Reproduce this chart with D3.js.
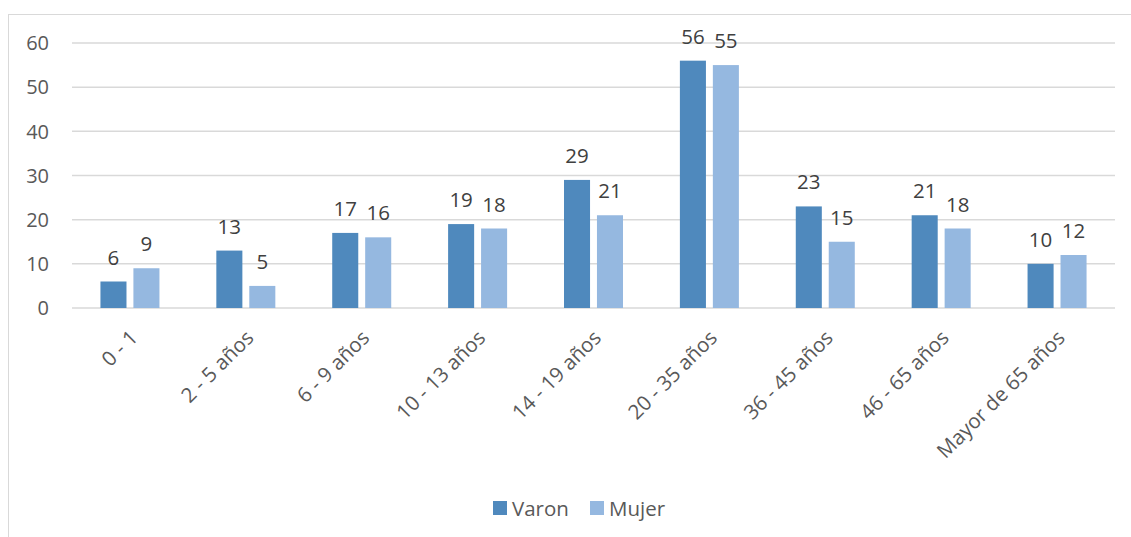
<!DOCTYPE html>
<html>
<head>
<meta charset="utf-8">
<script src="https://cdn.jsdelivr.net/npm/d3@7"></script>
<style>
  body { margin: 0; background: #fff; }
  text { font-family: "Open Sans", sans-serif; }
</style>
</head>
<body>
<svg width="1131" height="537"></svg>
<script>
// data
var categories = ["0 - 1", "2 - 5 años", "6 - 9 años", "10 - 13 años", "14 - 19 años",
                  "20 - 35 años", "36 - 45 años", "46 - 65 años", "Mayor de 65 años"];
var seriesNames = ["Varon", "Mujer"];
var varon = [6, 13, 17, 19, 29, 56, 23, 21, 10];
var mujer = [9, 5, 16, 18, 21, 55, 15, 18, 12];
var yTicks = [0, 10, 20, 30, 40, 50, 60];
var colors = ["#4f89bd", "#95b8e0"];

var svg = d3.select("svg");

// outer chart border
svg.append("rect")
  .attr("x", 8.5).attr("y", 14.5)
  .attr("width", 1140).attr("height", 540)
  .attr("fill", "none")
  .attr("stroke", "#d9d9d9");

var plotLeft = 72, plotRight = 1115, plotTop = 43, plotBottom = 308;

var x = d3.scaleBand().domain(categories).range([plotLeft, plotRight]).padding(0);
var xInner = d3.scaleBand().domain(seriesNames).range([0, 59]).paddingInner(0.21);
var y = d3.scaleLinear().domain([0, 60]).range([plotBottom, plotTop]);

// gridlines
svg.append("g").selectAll("line")
  .data(yTicks)
  .enter().append("line")
  .attr("x1", plotLeft).attr("x2", plotRight)
  .attr("y1", d => y(d)).attr("y2", d => y(d))
  .attr("stroke", "#d9d9d9")
  .attr("stroke-width", 1.5);

// y labels
svg.append("g").selectAll("text")
  .data(yTicks)
  .enter().append("text")
  .attr("x", 49).attr("y", d => y(d))
  .attr("dy", "0.36em")
  .attr("text-anchor", "end")
  .attr("font-size", 20)
  .attr("fill", "#595959")
  .text(d => d);

var rows = categories.map((c, i) => ({ cat: c, values: [varon[i], mujer[i]] }));
var groupOffset = (x.bandwidth() - 59) / 2;

var group = svg.append("g").selectAll("g")
  .data(rows)
  .enter().append("g")
  .attr("transform", d => "translate(" + (x(d.cat) + groupOffset) + ",0)");

var bar = group.selectAll("g")
  .data(d => d.values.map((v, j) => ({ name: seriesNames[j], value: v, idx: j })))
  .enter().append("g");

bar.append("rect")
  .attr("x", d => xInner(d.name))
  .attr("width", xInner.bandwidth())
  .attr("y", d => y(d.value))
  .attr("height", d => y(0) - y(d.value))
  .attr("fill", d => colors[d.idx]);

bar.append("text")
  .attr("x", d => xInner(d.name) + xInner.bandwidth() / 2)
  .attr("y", d => y(d.value) - 17)
  .attr("text-anchor", "middle")
  .attr("font-size", 20.5)
  .attr("fill", "#404040")
  .text(d => d.value);

// x labels, rotated
svg.append("g").selectAll("text")
  .data(categories)
  .enter().append("text")
  .attr("text-anchor", "end")
  .attr("font-size", 20.5)
  .attr("fill", "#595959")
  .attr("transform", d => "translate(" + (x(d) + x.bandwidth() / 2 + 9) + "," + 339 + ") rotate(-45)")
  .text(d => d);

// legend
var legend = svg.append("g").selectAll("g")
  .data(seriesNames)
  .enter().append("g")
  .attr("transform", (d, i) => "translate(" + (493 + i * 97) + ",501)");

legend.append("rect")
  .attr("width", 14).attr("height", 14)
  .attr("fill", (d, i) => colors[i]);

legend.append("text")
  .attr("x", 19).attr("y", 14.5)
  .attr("font-size", 20.5)
  .attr("fill", "#595959")
  .text(d => d);
</script>
</body>
</html>
